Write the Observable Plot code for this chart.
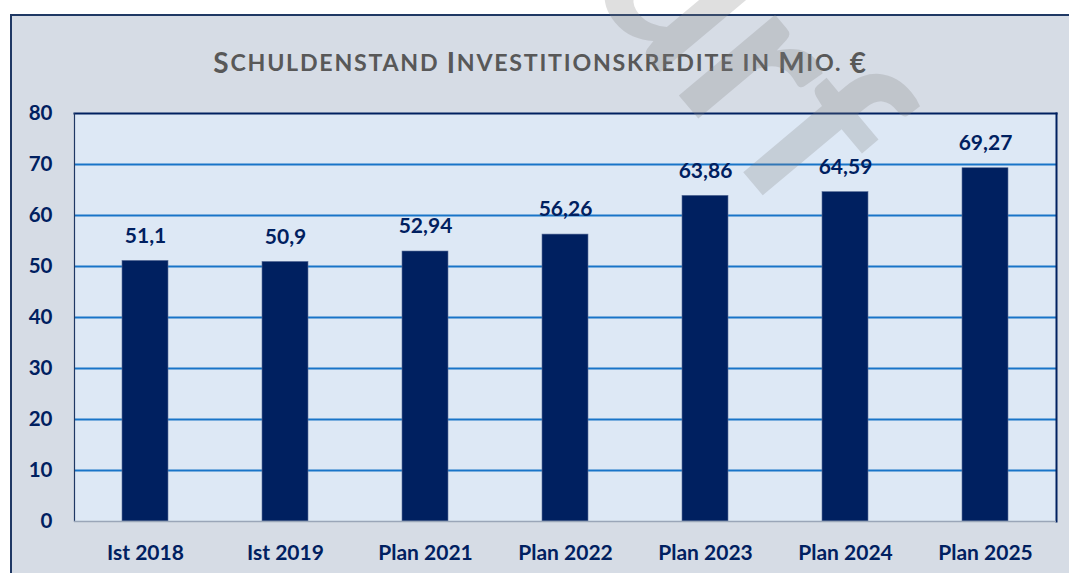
<!DOCTYPE html>
<html>
<head>
<meta charset="utf-8">
<script src="https://cdn.jsdelivr.net/npm/d3@7"></script>
<script src="https://cdn.jsdelivr.net/npm/@observablehq/plot@0.6"></script>
<style>
  html, body { margin: 0; padding: 0; background: #ffffff; overflow: hidden; width: 1069px; height: 573px; }
  #frame { position: absolute; left: 10px; top: 14px; width: 1100px; height: 620px;
           background: #d6dce5; border-left: 2px solid #1f3864; border-top: 2px solid #1f3864; }
  #title { width: 1057px; height: 70px; box-sizing: border-box; padding-top: 22px;
           display: flex; align-items: center; justify-content: center;
           font-family: Lato, sans-serif; font-weight: 700; color: #585858; font-size: 28px;
           letter-spacing: 1.75px; white-space: pre; }
  #title .sc { font-size: 23.2px; }
  #chart svg { display: block; }
  #wm { position: absolute; left: 0; top: 0; pointer-events: none; }
</style>
</head>
<body>
<div id="frame">
  <div id="title"><span>S</span><span class="sc">CHULDENSTAND </span><span>I</span><span class="sc">NVESTITIONSKREDITE IN </span><span>M</span><span class="sc">IO. </span><span>€</span></div>
  <div id="chart"></div>
</div>
<svg id="wm" width="1069" height="573">
  <text id="wmtext" transform="translate(728,154) rotate(50)" x="0" y="0" text-anchor="start" font-family="Lato, sans-serif" font-weight="700" font-size="245" fill="#808080" fill-opacity="0.25">Entwurf</text>
</svg>
<script>
const categories = ["Ist 2018", "Ist 2019", "Plan 2021", "Plan 2022", "Plan 2023", "Plan 2024", "Plan 2025"];
const values = [51.1, 50.9, 52.94, 56.26, 63.86, 64.59, 69.27];
const valueLabels = ["51,1", "50,9", "52,94", "56,26", "63,86", "64,59", "69,27"];
const yTicks = [0, 10, 20, 30, 40, 50, 60, 70, 80];

const data = categories.map((c, i) => ({cat: c, value: values[i], label: valueLabels[i]}));
const navy = "#002060";

const chart = Plot.plot({
  width: 1057,
  height: 487,
  marginLeft: 62,
  marginRight: 13,
  marginTop: 27,
  marginBottom: 52,
  style: {background: "transparent", fontFamily: "Lato, sans-serif", overflow: "visible"},
  x: {domain: categories, paddingInner: 0.67, paddingOuter: 0.335, label: null},
  y: {domain: [0, 80], label: null},
  marks: [
    Plot.frame({fill: "#dde8f5", stroke: null}),
    Plot.ruleY(yTicks.filter(d => d > 0 && d < 80), {stroke: "#1874c8", strokeWidth: 2}),
    Plot.barY(data, {x: "cat", y: "value", fill: navy, stroke: "#5a6f9a", strokeWidth: 0.6}),
    Plot.text(data, {x: "cat", y: "value", text: "label", dy: -25, fontSize: 21, fontWeight: "bold", fill: navy}),
    Plot.frame({anchor: "top", stroke: navy, strokeWidth: 2}),
    Plot.frame({anchor: "right", stroke: navy, strokeWidth: 2}),
    Plot.frame({anchor: "left", stroke: "#1f3864", strokeWidth: 1.2}),
    Plot.ruleY([0], {stroke: "#9aa6b8", strokeWidth: 1.5}),
    Plot.axisY({ticks: yTicks, tickSize: 0, tickPadding: 22, fontSize: 20.5, fontWeight: "bold", fill: navy, label: null}),
    Plot.axisX({tickSize: 0, tickPadding: 24, fontSize: 21, fontWeight: "bold", fill: navy, label: null})
  ]
});
document.getElementById("chart").appendChild(chart);

// place the watermark so that the final letter's origin sits at the translate point
const wm = document.getElementById("wmtext");
try {
  const sx = wm.getStartPositionOfChar(6).x;
  wm.setAttribute("x", -sx);
} catch (e) {}
</script>
</body>
</html>
